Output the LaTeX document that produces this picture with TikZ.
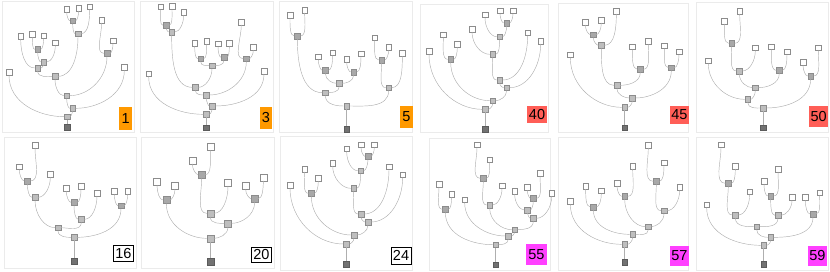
\documentclass[tikz,border=0pt]{standalone}
\usepackage{fontspec}
\setsansfont{Liberation Sans}
\usepackage{tikz}
\usetikzlibrary{positioning}
\definecolor{TagOrange}{HTML}{FF9900}
\definecolor{TagRed}{HTML}{FF5E57}
\definecolor{TagMagenta}{HTML}{FF40FF}
\definecolor{SqEdge}{HTML}{8C8C8C}
\definecolor{PairGray}{HTML}{A8A8A8}
\definecolor{JoinGray}{HTML}{BEBEBE}
\definecolor{RootGray}{HTML}{727272}
\definecolor{LinkGray}{HTML}{AFAFAF}
\definecolor{FrameGray}{HTML}{EBEBEB}
\tikzset{
    % Base square
    basesq/.style={
        rectangle,
        draw=SqEdge,
        line width=0.4pt,
        minimum size=5.6pt,
        inner sep=0pt
    },
    % Leaf square
    leaf/.style={basesq, fill=white},
    % Node joining two leaves
    pairnode/.style={basesq, fill=PairGray},
    % Other inner node
    joinnode/.style={basesq, fill=JoinGray},
    % Root square
    rootnode/.style={basesq, fill=RootGray, draw=RootGray!80!black},
    % Curved links
    link/.style={draw=LinkGray, line width=0.45pt},
    fromleft/.style={out=270, in=180},
    fromright/.style={out=270, in=0},
    % Panel frame
    frame/.style={draw=FrameGray, line width=0.5pt},
    % Number tags
    tagbase/.style={
        font=\sffamily\fontsize{14.5}{14.5}\selectfont,
        inner sep=0pt,
        text=black
    },
    tagorange/.style={tagbase, fill=TagOrange},
    tagred/.style={tagbase, fill=TagRed},
    tagwhite/.style={tagbase, fill=white, draw=black, line width=0.6pt},
    tagmagenta/.style={tagbase, fill=TagMagenta}
}

\begin{document}
\begin{tikzpicture}[x=0.33333pt, y=-0.33333pt]
    \useasboundingbox (0,0) rectangle (2490,816);

    % ---------- panel 1
    \begin{scope}[shift={(0,0)}, name prefix=pA-]
        \draw[frame] (6,3) rectangle (402,398);
        \node[leaf] (a) at (200,28) {};
        \node[leaf] (b) at (236,24) {};
        \node[leaf] (c) at (269,20) {};
        \node[leaf] (d) at (305,60) {};
        \node[leaf] (e) at (339,122) {};
        \node[leaf] (f) at (62,108) {};
        \node[leaf] (g) at (97,103) {};
        \node[leaf] (h) at (131,107) {};
        \node[leaf] (i) at (166,128) {};
        \node[leaf] (j) at (27,217) {};
        \node[leaf] (k) at (373,202) {};
        \node[pairnode] (n1) at (218,62) {};
        \node[joinnode] (n2) at (234,101) {};
        \node[pairnode] (n3) at (113,148) {};
        \node[joinnode] (n4) at (131,186) {};
        \node[joinnode] (n5) at (113,204) {};
        \node[joinnode] (n6) at (165,229) {};
        \node[pairnode] (n7) at (321,160) {};
        \node[joinnode] (n8) at (200,287) {};
        \node[joinnode] (n9) at (218,325) {};
        \node[joinnode] (n10) at (201,350) {};
        \node[rootnode] (r) at (201,381) {};
        \draw[link] (a) to[fromleft] (n1) (b) to[fromright] (n1);
        \draw[link] (n1) to[fromleft] (n2) (c) to[fromright] (n2);
        \draw[link] (g) to[fromleft] (n3) (h) to[fromright] (n3);
        \draw[link] (n3) to[fromleft] (n4) (i) to[fromright] (n4);
        \draw[link] (f) to[fromleft] (n5) (n4) to[fromright] (n5);
        \draw[link] (n5) to[fromleft] (n6) (n2) to[fromright] (n6);
        \draw[link] (d) to[fromleft] (n7) (e) to[fromright] (n7);
        \draw[link] (n6) to[fromleft] (n8) (n7) to[fromright] (n8);
        \draw[link] (n8) to[fromleft] (n9) (k) to[fromright] (n9);
        \draw[link] (j) to[fromleft] (n10) (n9) to[fromright] (n10);
        \draw[link] (n10) -- (r);
        \node[tagorange, minimum width=12.5pt, minimum height=22.5pt] (tag) at (377,356) {1};
    \end{scope}

    % ---------- panel 3
    \begin{scope}[shift={(414,0)}, name prefix=pB-]
        \draw[frame] (6,3) rectangle (406,398);
        \node[leaf] (a) at (68,20) {};
        \node[leaf] (b) at (102,19) {};
        \node[leaf] (c) at (137,37) {};
        \node[leaf] (d) at (170,130) {};
        \node[leaf] (e) at (206,124) {};
        \node[leaf] (f) at (240,131) {};
        \node[leaf] (g) at (274,130) {};
        \node[leaf] (h) at (310,66) {};
        \node[leaf] (i) at (346,142) {};
        \node[leaf] (j) at (32,221) {};
        \node[leaf] (k) at (378,213) {};
        \node[pairnode] (n1) at (84,76) {};
        \node[joinnode] (n2) at (101,96) {};
        \node[pairnode] (n3) at (188,176) {};
        \node[pairnode] (n4) at (258,172) {};
        \node[joinnode] (n5) at (222,197) {};
        \node[pairnode] (n6) at (325,176) {};
        \node[joinnode] (n7) at (172,262) {};
        \node[joinnode] (n8) at (205,285) {};
        \node[joinnode] (n9) at (223,318) {};
        \node[joinnode] (n10) at (205,343) {};
        \node[rootnode] (r) at (205,383) {};
        \draw[link] (a) to[fromleft] (n1) (b) to[fromright] (n1);
        \draw[link] (n1) to[fromleft] (n2) (c) to[fromright] (n2);
        \draw[link] (d) to[fromleft] (n3) (e) to[fromright] (n3);
        \draw[link] (f) to[fromleft] (n4) (g) to[fromright] (n4);
        \draw[link] (n3) to[fromleft] (n5) (n4) to[fromright] (n5);
        \draw[link] (h) to[fromleft] (n6) (i) to[fromright] (n6);
        \draw[link] (n2) to[fromleft] (n7) (n5) to[fromright] (n7);
        \draw[link] (n7) to[fromleft] (n8) (n6) to[fromright] (n8);
        \draw[link] (n8) to[fromleft] (n9) (k) to[fromright] (n9);
        \draw[link] (j) to[fromleft] (n10) (n9) to[fromright] (n10);
        \draw[link] (n10) -- (r);
        \node[tagorange, minimum width=12.5pt, minimum height=22.5pt] (tag) at (384,354) {3};
    \end{scope}

    % ---------- panel 5
    \begin{scope}[shift={(828,0)}, name prefix=pC-]
        \draw[frame] (10,3) rectangle (410,398);
        \node[leaf] (a) at (42,45) {};
        \node[leaf] (b) at (86,30) {};
        \node[leaf] (c) at (127,170) {};
        \node[leaf] (d) at (170,158) {};
        \node[leaf] (e) at (212,178) {};
        \node[leaf] (f) at (255,161) {};
        \node[leaf] (g) at (296,113) {};
        \node[leaf] (h) at (338,142) {};
        \node[leaf] (i) at (379,160) {};
        \node[pairnode] (n1) at (64,108) {};
        \node[pairnode] (n2) at (148,211) {};
        \node[pairnode] (n3) at (233,216) {};
        \node[joinnode] (n4) at (190,250) {};
        \node[joinnode] (n5) at (148,278) {};
        \node[pairnode] (n6) at (317,180) {};
        \node[joinnode] (n7) at (338,263) {};
        \node[joinnode] (n8) at (212,318) {};
        \node[rootnode] (r) at (212,387) {};
        \draw[link] (a) to[fromleft] (n1) (b) to[fromright] (n1);
        \draw[link] (c) to[fromleft] (n2) (d) to[fromright] (n2);
        \draw[link] (e) to[fromleft] (n3) (f) to[fromright] (n3);
        \draw[link] (n2) to[fromleft] (n4) (n3) to[fromright] (n4);
        \draw[link] (n1) to[fromleft] (n5) (n4) to[fromright] (n5);
        \draw[link] (g) to[fromleft] (n6) (h) to[fromright] (n6);
        \draw[link] (n6) to[fromleft] (n7) (i) to[fromright] (n7);
        \draw[link] (n5) to[fromleft] (n8) (n7) to[fromright] (n8);
        \draw[link] (n8) -- (r);
        \node[tagorange, minimum width=12.5pt, minimum height=22.5pt] (tag) at (391,351) {5};
    \end{scope}

    % ---------- panel 40
    \begin{scope}[shift={(1242,0)}, name prefix=pD-]
        \draw[frame] (18,12) rectangle (402,398);
        \node[leaf] (a) at (213,44) {};
        \node[leaf] (b) at (258,32) {};
        \node[leaf] (c) at (297,32) {};
        \node[leaf] (d) at (174,87) {};
        \node[leaf] (e) at (341,98) {};
        \node[leaf] (f) at (380,123) {};
        \node[leaf] (g) at (88,104) {};
        \node[leaf] (h) at (130,133) {};
        \node[leaf] (i) at (45,154) {};
        \node[pairnode] (n1) at (278,69) {};
        \node[joinnode] (n2) at (257,110) {};
        \node[joinnode] (n3) at (236,163) {};
        \node[pairnode] (n4) at (110,178) {};
        \node[joinnode] (n5) at (257,240) {};
        \node[joinnode] (n6) at (278,263) {};
        \node[joinnode] (n7) at (236,302) {};
        \node[joinnode] (n8) at (214,328) {};
        \node[rootnode] (r) at (214,387) {};
        \draw[link] (b) to[fromleft] (n1) (c) to[fromright] (n1);
        \draw[link] (a) to[fromleft] (n2) (n1) to[fromright] (n2);
        \draw[link] (d) to[fromleft] (n3) (n2) to[fromright] (n3);
        \draw[link] (g) to[fromleft] (n4) (h) to[fromright] (n4);
        \draw[link] (n3) to[fromleft] (n5) (e) to[fromright] (n5);
        \draw[link] (n5) to[fromleft] (n6) (f) to[fromright] (n6);
        \draw[link] (n4) to[fromleft] (n7) (n6) to[fromright] (n7);
        \draw[link] (i) to[fromleft] (n8) (n7) to[fromright] (n8);
        \draw[link] (n8) -- (r);
        \node[tagred, minimum width=20.5pt, minimum height=17.5pt] (tag) at (369,344) {40};
    \end{scope}

    % ---------- panel 45
    \begin{scope}[shift={(1656,0)}, name prefix=pE-]
        \draw[frame] (18,10) rectangle (410,398);
        \node[leaf] (a) at (100,66) {};
        \node[leaf] (b) at (148,60) {};
        \node[leaf] (c) at (193,33) {};
        \node[leaf] (d) at (241,140) {};
        \node[leaf] (e) at (289,124) {};
        \node[leaf] (f) at (337,137) {};
        \node[leaf] (g) at (381,155) {};
        \node[leaf] (h) at (55,164) {};
        \node[pairnode] (n1) at (124,104) {};
        \node[joinnode] (n2) at (148,136) {};
        \node[pairnode] (n3) at (265,208) {};
        \node[joinnode] (n4) at (195,256) {};
        \node[pairnode] (n5) at (358,203) {};
        \node[joinnode] (n6) at (241,294) {};
        \node[joinnode] (n7) at (218,322) {};
        \node[rootnode] (r) at (218,383) {};
        \draw[link] (a) to[fromleft] (n1) (b) to[fromright] (n1);
        \draw[link] (n1) to[fromleft] (n2) (c) to[fromright] (n2);
        \draw[link] (d) to[fromleft] (n3) (e) to[fromright] (n3);
        \draw[link] (n2) to[fromleft] (n4) (n3) to[fromright] (n4);
        \draw[link] (f) to[fromleft] (n5) (g) to[fromright] (n5);
        \draw[link] (n4) to[fromleft] (n6) (n5) to[fromright] (n6);
        \draw[link] (h) to[fromleft] (n7) (n6) to[fromright] (n7);
        \draw[link] (n7) -- (r);
        \node[tagred, minimum width=18.5pt, minimum height=18pt] (tag) at (382,345) {45};
    \end{scope}

    % ---------- panel 50
    \begin{scope}[shift={(2070,0)}, name prefix=pF-]
        \draw[frame] (18,8) rectangle (416,398);
        \node[leaf] (a) at (103,63) {};
        \node[leaf] (b) at (149,33) {};
        \node[leaf] (c) at (196,143) {};
        \node[leaf] (d) at (244,140) {};
        \node[leaf] (e) at (291,155) {};
        \node[leaf] (f) at (55,182) {};
        \node[leaf] (g) at (339,187) {};
        \node[leaf] (h) at (385,143) {};
        \node[pairnode] (n1) at (125,130) {};
        \node[joinnode] (n2) at (148,213) {};
        \node[pairnode] (n3) at (268,211) {};
        \node[joinnode] (n4) at (196,263) {};
        \node[joinnode] (n5) at (173,298) {};
        \node[pairnode] (n6) at (362,228) {};
        \node[joinnode] (n7) at (220,324) {};
        \node[rootnode] (r) at (220,383) {};
        \draw[link] (a) to[fromleft] (n1) (b) to[fromright] (n1);
        \draw[link] (n1) to[fromleft] (n2) (c) to[fromright] (n2);
        \draw[link] (d) to[fromleft] (n3) (e) to[fromright] (n3);
        \draw[link] (n2) to[fromleft] (n4) (n3) to[fromright] (n4);
        \draw[link] (f) to[fromleft] (n5) (n4) to[fromright] (n5);
        \draw[link] (g) to[fromleft] (n6) (h) to[fromright] (n6);
        \draw[link] (n5) to[fromleft] (n7) (n6) to[fromright] (n7);
        \draw[link] (n7) -- (r);
        \node[tagred, minimum width=19pt, minimum height=21.5pt] (tag) at (386,350) {50};
    \end{scope}

    % ---------- panel 16
    \begin{scope}[shift={(0,402)}, name prefix=pG-]
        \draw[frame] (14,10) rectangle (408,404);
        \node[leaf] (a) at (58,98) {};
        \node[leaf] (b) at (105,33) {};
        \node[leaf] (c) at (151,121) {};
        \node[leaf] (d) at (199,163) {};
        \node[leaf] (e) at (243,156) {};
        \node[leaf] (f) at (291,177) {};
        \node[leaf] (g) at (343,172) {};
        \node[leaf] (h) at (383,172) {};
        \node[pairnode] (n1) at (82,141) {};
        \node[joinnode] (n2) at (105,190) {};
        \node[pairnode] (n3) at (222,205) {};
        \node[joinnode] (n4) at (244,256) {};
        \node[pairnode] (n5) at (363,215) {};
        \node[joinnode] (n6) at (174,281) {};
        \node[joinnode] (n7) at (222,310) {};
        \node[rootnode] (r) at (222,382) {};
        \draw[link] (a) to[fromleft] (n1) (b) to[fromright] (n1);
        \draw[link] (n1) to[fromleft] (n2) (c) to[fromright] (n2);
        \draw[link] (d) to[fromleft] (n3) (e) to[fromright] (n3);
        \draw[link] (n3) to[fromleft] (n4) (f) to[fromright] (n4);
        \draw[link] (g) to[fromleft] (n5) (h) to[fromright] (n5);
        \draw[link] (n2) to[fromleft] (n6) (n4) to[fromright] (n6);
        \draw[link] (n6) to[fromleft] (n7) (n5) to[fromright] (n7);
        \draw[link] (n7) -- (r);
        \node[tagwhite, minimum width=20pt, minimum height=16pt] (tag) at (370,359) {16};
    \end{scope}

    % ---------- panel 20
    \begin{scope}[shift={(414,402)}, name prefix=pH-, basesq/.append style={minimum size=6.8pt}]
        \draw[frame] (10,10) rectangle (408,404);
        \node[leaf] (a) at (163,79) {};
        \node[leaf] (b) at (217,38) {};
        \node[leaf] (c) at (270,145) {};
        \node[leaf] (d) at (323,156) {};
        \node[leaf] (e) at (376,130) {};
        \node[leaf] (f) at (57,143) {};
        \node[leaf] (g) at (111,155) {};
        \node[pairnode] (n1) at (191,122) {};
        \node[joinnode] (n2) at (217,238) {};
        \node[pairnode] (n3) at (350,194) {};
        \node[joinnode] (n4) at (270,268) {};
        \node[pairnode] (n5) at (85,198) {};
        \node[joinnode] (n6) at (217,313) {};
        \node[rootnode] (r) at (217,382) {};
        \draw[link] (a) to[fromleft] (n1) (b) to[fromright] (n1);
        \draw[link] (n1) to[fromleft] (n2) (c) to[fromright] (n2);
        \draw[link] (d) to[fromleft] (n3) (e) to[fromright] (n3);
        \draw[link] (n2) to[fromleft] (n4) (n3) to[fromright] (n4);
        \draw[link] (f) to[fromleft] (n5) (g) to[fromright] (n5);
        \draw[link] (n5) to[fromleft] (n6) (n4) to[fromright] (n6);
        \draw[link] (n6) -- (r);
        \node[tagwhite, minimum width=20pt, minimum height=15.5pt] (tag) at (370,362) {20};
    \end{scope}

    % ---------- panel 24
    \begin{scope}[shift={(828,402)}, name prefix=pI-]
        \draw[frame] (12,8) rectangle (410,408);
        \node[leaf] (a) at (212,44) {};
        \node[leaf] (b) at (255,32) {};
        \node[leaf] (c) at (295,32) {};
        \node[leaf] (d) at (170,87) {};
        \node[leaf] (e) at (339,98) {};
        \node[leaf] (f) at (380,122) {};
        \node[leaf] (g) at (86,105) {};
        \node[leaf] (h) at (127,133) {};
        \node[leaf] (i) at (42,153) {};
        \node[pairnode] (n1) at (276,67) {};
        \node[joinnode] (n2) at (254,110) {};
        \node[joinnode] (n3) at (233,163) {};
        \node[pairnode] (n4) at (106,178) {};
        \node[joinnode] (n5) at (255,240) {};
        \node[joinnode] (n6) at (276,264) {};
        \node[joinnode] (n7) at (234,303) {};
        \node[joinnode] (n8) at (211,330) {};
        \node[rootnode] (r) at (211,390) {};
        \draw[link] (b) to[fromleft] (n1) (c) to[fromright] (n1);
        \draw[link] (a) to[fromleft] (n2) (n1) to[fromright] (n2);
        \draw[link] (d) to[fromleft] (n3) (n2) to[fromright] (n3);
        \draw[link] (g) to[fromleft] (n4) (h) to[fromright] (n4);
        \draw[link] (n3) to[fromleft] (n5) (e) to[fromright] (n5);
        \draw[link] (n5) to[fromleft] (n6) (f) to[fromright] (n6);
        \draw[link] (n4) to[fromleft] (n7) (n6) to[fromright] (n7);
        \draw[link] (i) to[fromleft] (n8) (n7) to[fromright] (n8);
        \draw[link] (n8) -- (r);
        \node[tagwhite, minimum width=20pt, minimum height=16.5pt] (tag) at (375,365) {24};
    \end{scope}

    % ---------- panel 55
    \begin{scope}[shift={(1242,402)}, name prefix=pJ-]
        \draw[frame] (45,12) rectangle (408,410);
        \node[leaf] (a) at (189,32) {};
        \node[leaf] (b) at (227,77) {};
        \node[leaf] (c) at (264,155) {};
        \node[leaf] (d) at (75,150) {};
        \node[leaf] (e) at (113,181) {};
        \node[leaf] (f) at (152,197) {};
        \node[leaf] (g) at (302,172) {};
        \node[leaf] (h) at (340,160) {};
        \node[leaf] (i) at (378,117) {};
        \node[leaf] (j) at (413,178) {};
        \node[pairnode] (n1) at (208,133) {};
        \node[joinnode] (n2) at (227,213) {};
        \node[pairnode] (n3) at (94,226) {};
        \node[pairnode] (n4) at (358,193) {};
        \node[joinnode] (n5) at (340,228) {};
        \node[joinnode] (n6) at (358,253) {};
        \node[joinnode] (n7) at (302,287) {};
        \node[joinnode] (n8) at (283,306) {};
        \node[joinnode] (n9) at (245,332) {};
        \node[rootnode] (r) at (245,392) {};
        \draw[link] (a) to[fromleft] (n1) (b) to[fromright] (n1);
        \draw[link] (n1) to[fromleft] (n2) (c) to[fromright] (n2);
        \draw[link] (d) to[fromleft] (n3) (e) to[fromright] (n3);
        \draw[link] (h) to[fromleft] (n4) (i) to[fromright] (n4);
        \draw[link] (g) to[fromleft] (n5) (n4) to[fromright] (n5);
        \draw[link] (n5) to[fromleft] (n6) (j) to[fromright] (n6);
        \draw[link] (n2) to[fromleft] (n7) (n6) to[fromright] (n7);
        \draw[link] (f) to[fromleft] (n8) (n7) to[fromright] (n8);
        \draw[link] (n3) to[fromleft] (n9) (n8) to[fromright] (n9);
        \draw[link] (n9) -- (r);
        \node[tagmagenta, minimum width=21.5pt, minimum height=20.5pt] (tag) at (367,361) {55};
    \end{scope}

    % ---------- panel 57
    \begin{scope}[shift={(1656,402)}, name prefix=pK-]
        \draw[frame] (20,10) rectangle (410,410);
        \node[leaf] (a) at (289,33) {};
        \node[leaf] (b) at (336,86) {};
        \node[leaf] (c) at (383,160) {};
        \node[leaf] (d) at (195,147) {};
        \node[leaf] (e) at (242,96) {};
        \node[leaf] (f) at (101,156) {};
        \node[leaf] (g) at (148,170) {};
        \node[leaf] (h) at (55,202) {};
        \node[pairnode] (n1) at (313,142) {};
        \node[joinnode] (n2) at (336,230) {};
        \node[pairnode] (n3) at (218,187) {};
        \node[joinnode] (n4) at (289,278) {};
        \node[pairnode] (n5) at (124,219) {};
        \node[joinnode] (n6) at (242,301) {};
        \node[joinnode] (n7) at (218,331) {};
        \node[rootnode] (r) at (218,385) {};
        \draw[link] (a) to[fromleft] (n1) (b) to[fromright] (n1);
        \draw[link] (n1) to[fromleft] (n2) (c) to[fromright] (n2);
        \draw[link] (d) to[fromleft] (n3) (e) to[fromright] (n3);
        \draw[link] (n3) to[fromleft] (n4) (n2) to[fromright] (n4);
        \draw[link] (f) to[fromleft] (n5) (g) to[fromright] (n5);
        \draw[link] (n5) to[fromleft] (n6) (n4) to[fromright] (n6);
        \draw[link] (h) to[fromleft] (n7) (n6) to[fromright] (n7);
        \draw[link] (n7) -- (r);
        \node[tagmagenta, minimum width=18.5pt, minimum height=20pt] (tag) at (382,365) {57};
    \end{scope}

    % ---------- panel 59
    \begin{scope}[shift={(2070,402)}, name prefix=pL-]
        \draw[frame] (18,10) rectangle (414,410);
        \node[leaf] (a) at (93,32) {};
        \node[leaf] (b) at (136,96) {};
        \node[leaf] (c) at (179,173) {};
        \node[leaf] (d) at (222,141) {};
        \node[leaf] (e) at (264,105) {};
        \node[leaf] (f) at (306,190) {};
        \node[leaf] (g) at (346,190) {};
        \node[leaf] (h) at (389,176) {};
        \node[leaf] (i) at (50,212) {};
        \node[pairnode] (n1) at (115,148) {};
        \node[joinnode] (n2) at (136,243) {};
        \node[pairnode] (n3) at (242,186) {};
        \node[joinnode] (n4) at (264,244) {};
        \node[pairnode] (n5) at (369,240) {};
        \node[joinnode] (n6) at (200,278) {};
        \node[joinnode] (n7) at (242,310) {};
        \node[joinnode] (n8) at (221,334) {};
        \node[rootnode] (r) at (221,390) {};
        \draw[link] (a) to[fromleft] (n1) (b) to[fromright] (n1);
        \draw[link] (n1) to[fromleft] (n2) (c) to[fromright] (n2);
        \draw[link] (d) to[fromleft] (n3) (e) to[fromright] (n3);
        \draw[link] (n3) to[fromleft] (n4) (f) to[fromright] (n4);
        \draw[link] (g) to[fromleft] (n5) (h) to[fromright] (n5);
        \draw[link] (n2) to[fromleft] (n6) (n4) to[fromright] (n6);
        \draw[link] (n6) to[fromleft] (n7) (n5) to[fromright] (n7);
        \draw[link] (i) to[fromleft] (n8) (n7) to[fromright] (n8);
        \draw[link] (n8) -- (r);
        \node[tagmagenta, minimum width=18.5pt, minimum height=20pt] (tag) at (382,365) {59};
    \end{scope}
\end{tikzpicture}
\end{document}
